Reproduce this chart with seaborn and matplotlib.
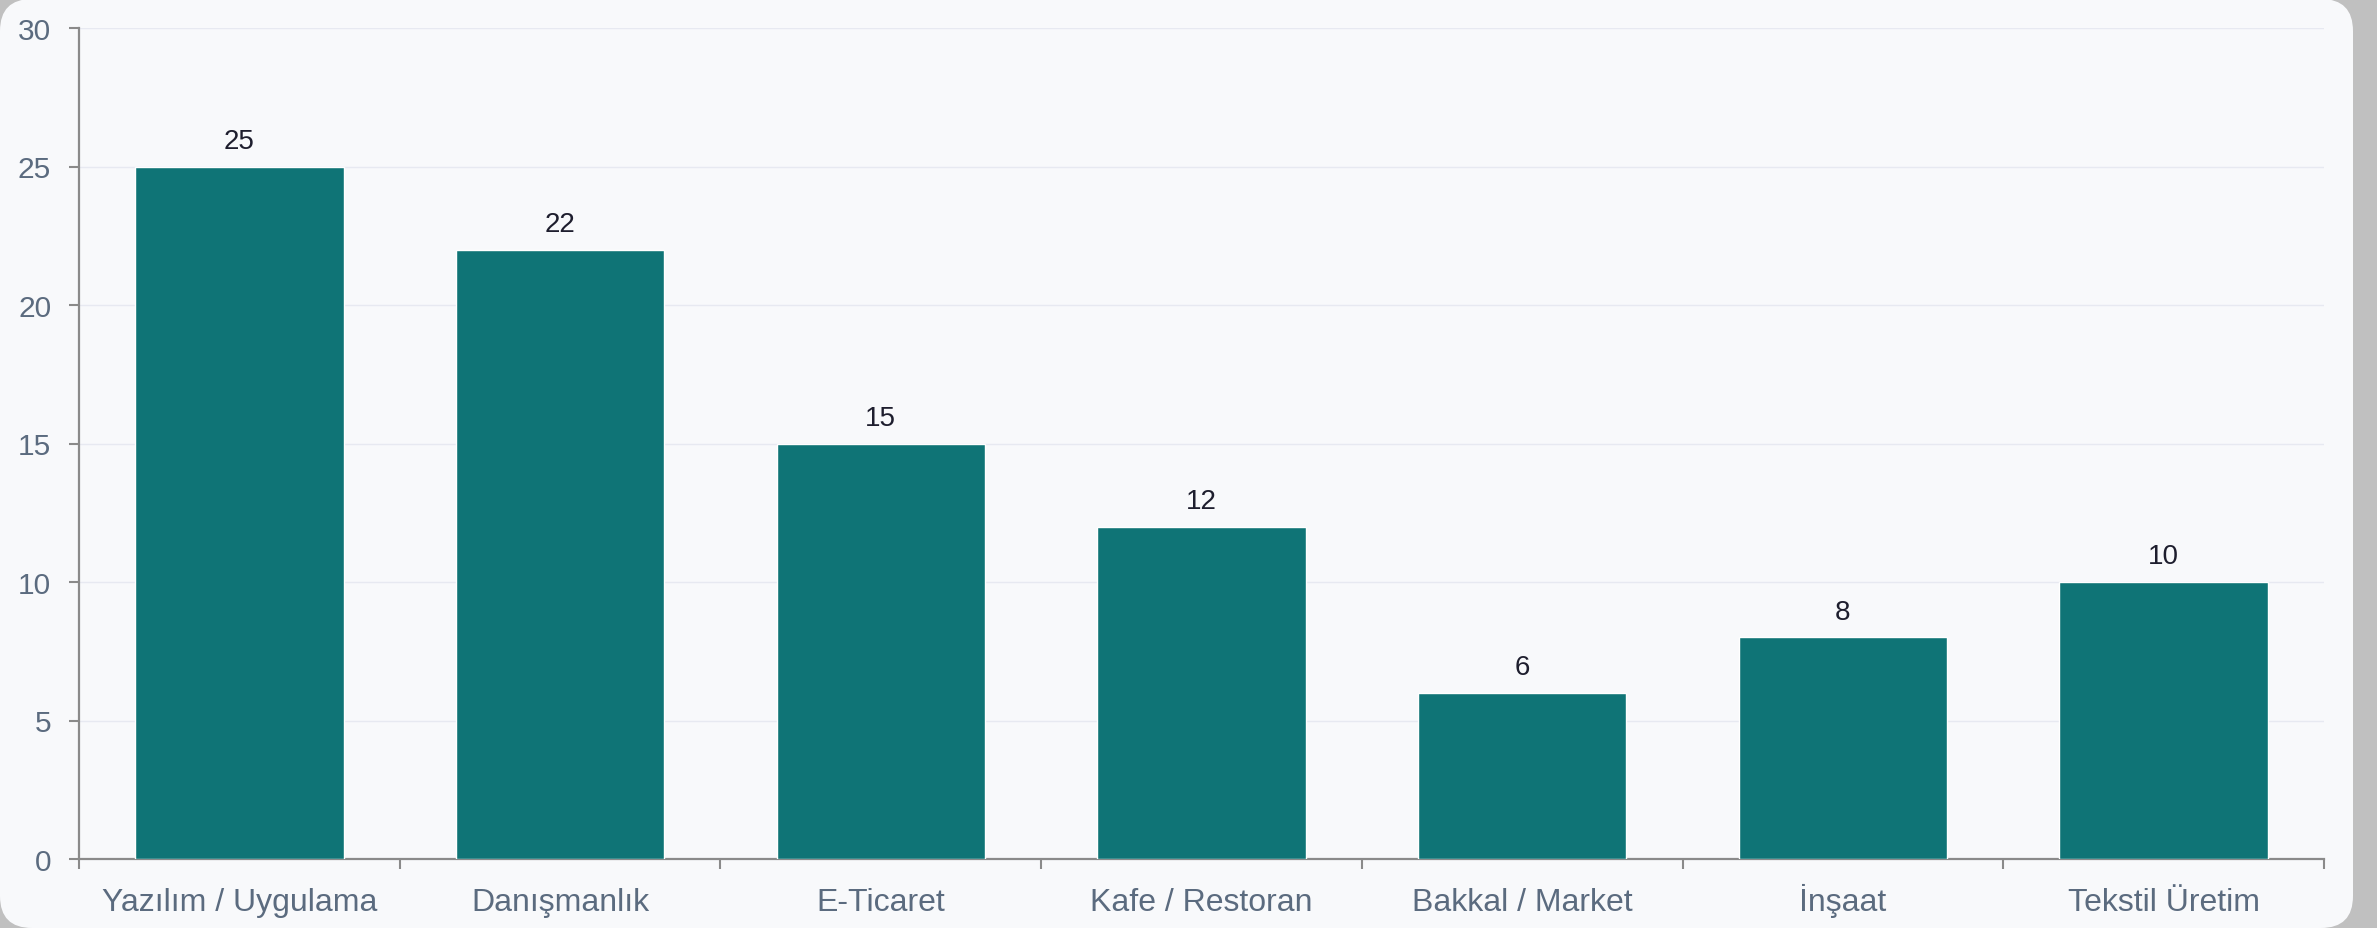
import seaborn as sns
import matplotlib.pyplot as plt
from matplotlib.patches import FancyBboxPatch
from matplotlib.transforms import IdentityTransform
import numpy as np

categories = ['Yazılım / Uygulama', 'Danışmanlık', 'E-Ticaret', 'Kafe / Restoran',
              'Bakkal / Market', 'İnşaat', 'Tekstil Üretim']
values = [25, 22, 15, 12, 6, 8, 10]
y_ticks = [0, 5, 10, 15, 20, 25, 30]

bar_color = '#0f7476'
card_color = '#f8f9fb'
grid_color = '#e7e9f1'
axis_color = '#8a8a8a'
label_color = '#5b6b7f'

sns.set_style('white')
plt.rcParams['font.family'] = ['Liberation Sans', 'DejaVu Sans']

fig = plt.figure(figsize=(23.77, 9.29), dpi=100, facecolor='#c0c0c0')
card = FancyBboxPatch((0, 0), 2353, 929, boxstyle='round,pad=0,rounding_size=32',
                      transform=IdentityTransform(), facecolor=card_color,
                      edgecolor='none', zorder=-5)
fig.patches.append(card)

ax = fig.add_axes([79 / 2377, 69 / 929, (2324 - 79) / 2377, (900 - 69) / 929])
ax.set_facecolor('none')
ax.set_zorder(2)

sns.barplot(x=categories, y=values, color=bar_color, saturation=1, width=0.65, ax=ax, zorder=3)

for i, v in enumerate(values):
    ax.annotate(str(v), (i, v), xytext=(0, 9), textcoords='offset points',
                ha='center', va='bottom', fontsize=20, color='#1e1e2e')

ax.set_xlim(-0.5, len(categories) - 0.5)
ax.set_ylim(0, 30)
ax.set_yticks(y_ticks)
ax.yaxis.grid(True, color=grid_color, linewidth=1.0, zorder=0)
ax.set_axisbelow(True)

ax.set_xticks(np.arange(len(categories)))
ax.set_xticklabels(categories)
ax.set_xticks(np.arange(len(categories) + 1) - 0.5, minor=True)
ax.tick_params(axis='x', which='major', bottom=True, length=0, pad=37,
               labelsize=23, labelcolor=label_color)
ax.tick_params(axis='x', which='minor', bottom=True, length=7, width=1.5, color=axis_color)
ax.tick_params(axis='y', left=True, length=7, width=1.5, color=axis_color, pad=13,
               labelsize=21.5, labelcolor=label_color)
for lab in ax.get_xticklabels():
    lab.set_verticalalignment('baseline')

for side in ['top', 'right']:
    ax.spines[side].set_visible(False)
for side in ['left', 'bottom']:
    ax.spines[side].set_color(axis_color)
    ax.spines[side].set_linewidth(1.6)

ax.set_xlabel('')
ax.set_ylabel('')

plt.savefig('out.png', dpi=100, facecolor=fig.get_facecolor())
